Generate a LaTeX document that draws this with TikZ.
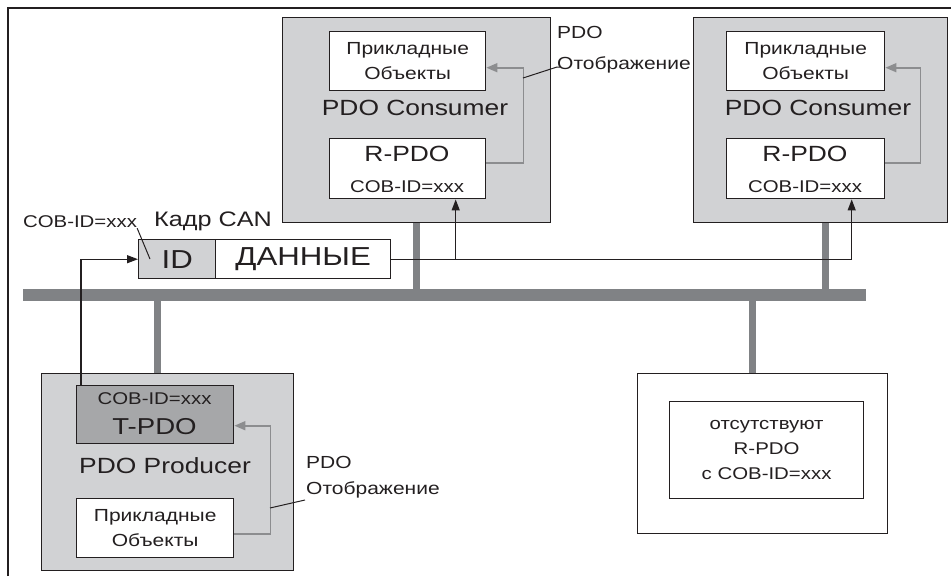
\documentclass[tikz,border=0pt]{standalone}
\usepackage{fontspec}
\setmainfont{Liberation Sans}[FakeStretch=1.2]
\usetikzlibrary{arrows.meta}

\definecolor{ink}{HTML}{231F20}
\definecolor{boxgray}{HTML}{D1D2D4}
\definecolor{tgray}{HTML}{A6A7A9}
\definecolor{busgray}{HTML}{808285}
\definecolor{mapgray}{HTML}{8C8D8F}

\newcommand{\fs}[2]{\fontsize{#1}{#2}\selectfont}

\tikzset{
  box/.style={draw=ink, line width=1.4pt, inner sep=0pt, anchor=north west},
  gbox/.style={box, fill=boxgray},
  wbox/.style={box, fill=white},
  txt/.style={inner sep=0pt, text=ink, align=center},
  sig/.style={draw=ink, line width=1.2pt, -{Triangle[length=11pt,width=8pt]}},
  map/.style={draw=mapgray, line width=1.6pt, -{Triangle[length=11pt,width=9pt]}},
  stub/.style={draw=busgray, line width=7pt},
  lead/.style={draw=ink, line width=1pt}
}

\begin{document}
\begin{tikzpicture}[x=1pt,y=-1pt]
\useasboundingbox (0,0) rectangle (951,576);

% outer frame
\draw[ink, line width=1.4pt] (8,576) -- (8,8) -- (951,8);

% CAN bus
\node[fill=busgray, inner sep=0pt, minimum width=843pt, minimum height=12pt, anchor=north west] (bus) at (23,289) {};

% consumer 1
\node[gbox, minimum width=268pt, minimum height=205pt] (c1) at (282,17) {};
\node[wbox, minimum width=156pt, minimum height=59pt, txt, font=\fs{17.5}{25}] (c1app) at (329,31) {Прикладные\\Объекты};
\node[txt, font=\fs{22}{26}] (c1title) at (415,108) {PDO Consumer};
\node[wbox, minimum width=156pt, minimum height=60pt] (c1rpdo) at (329,138) {};
\node[txt, font=\fs{22}{26}] (c1rname) at (407,154) {R-PDO};
\node[txt, font=\fs{17}{20}] (c1rid) at (407,187) {COB-ID=xxx};
\draw[map] ([yshift=6pt]c1rpdo.east) -- ++(37,0) |- ([yshift=-6.5pt]c1app.east);
\node[txt, align=left, anchor=west, font=\fs{17.5}{31}] (c1map) at (557,50) {PDO\\Отображение};
\coordinate (c1lead) at (523,78);
\draw[lead] (c1lead) -- (c1map.west |- 0,67) -- ++(3,0);

% consumer 2
\node[gbox, minimum width=254pt, minimum height=205pt] (c2) at (693,17) {};
\node[wbox, minimum width=158pt, minimum height=59pt, txt, font=\fs{17.5}{25}] (c2app) at (726,31) {Прикладные\\Объекты};
\node[txt, font=\fs{22}{26}] (c2title) at (818,108) {PDO Consumer};
\node[wbox, minimum width=158pt, minimum height=60pt] (c2rpdo) at (726,138) {};
\node[txt, font=\fs{22}{26}] (c2rname) at (805,154) {R-PDO};
\node[txt, font=\fs{17}{20}] (c2rid) at (805,187) {COB-ID=xxx};
\draw[map] ([yshift=6pt]c2rpdo.east) -- ++(35,0) |- ([yshift=-6.5pt]c2app.east);

% CAN frame
\node[box, fill=boxgray, minimum width=77pt, minimum height=39pt, txt, font=\fs{26}{30}] (id) at (138,239) {ID};
\node[box, fill=white, minimum width=175pt, minimum height=39pt, txt, font=\fs{26}{30}] (data) at (215,239) {ДАННЫЕ};
\node[txt, font=\fs{17}{20}] (idlabel) at (80,222) {COB-ID=xxx};
\node[txt, font=\fs{21}{24}] (frame) at (213,221) {Кадр CAN};
\draw[lead] (idlabel.south east) -- ([xshift=12pt,yshift=-20pt]id.north west);

% producer
\node[gbox, minimum width=252pt, minimum height=197pt] (prod) at (41,373) {};
\node[box, fill=tgray, minimum width=157pt, minimum height=58pt] (tpdo) at (76,385) {};
\node[txt, font=\fs{17}{20}] (tid) at (154.5,399) {COB-ID=xxx};
\node[txt, font=\fs{23}{26}] (tname) at (154.5,427) {T-PDO};
\node[txt, font=\fs{22}{26}] (ptitle) at (165,466) {PDO Producer};
\node[wbox, minimum width=157pt, minimum height=59pt, txt, font=\fs{17.5}{25}] (papp) at (76,498) {Прикладные\\Объекты};
\draw[map] ([yshift=-5.5pt]papp.east) -- ++(36,0) |- ([yshift=-11pt]tpdo.east);
\node[txt, align=left, anchor=west, font=\fs{17.5}{26}] (pmap) at (306,477) {PDO\\Отображение};
\coordinate (plead) at (270,508);
\draw[lead] (plead) -- (305,500);

% node without a matching receive PDO
\node[wbox, minimum width=250pt, minimum height=160pt] (other) at (637,373) {};
\node[box, line width=1.2pt, fill=white, minimum width=194pt, minimum height=97pt, txt, font=\fs{17}{25}] (none) at (669,401) {отсутствуют\\R-PDO\\с COB-ID=xxx};

% bus drops
\draw[stub] (c1.south) -- (c1.south |- bus.north);
\coordinate (s2) at ([xshift=5pt]c2.south);
\draw[stub] (s2) -- (s2 |- bus.north);
\coordinate (s3) at ([xshift=-10pt]prod.north);
\draw[stub] (s3) -- (s3 |- bus.south);
\coordinate (s4) at ([xshift=-10pt]other.north);
\draw[stub] (s4) -- (s4 |- bus.south);

% message flow
\draw[sig] ([xshift=5pt]tpdo.north west) |- (id.west);
\coordinate (tap1) at ([xshift=48pt]c1rpdo.south);
\coordinate (tap2) at ([xshift=46pt]c2rpdo.south);
\draw[sig] (data.east) -| (tap2);
\draw[sig] (tap1 |- data.east) -- (tap1);
\end{tikzpicture}
\end{document}
